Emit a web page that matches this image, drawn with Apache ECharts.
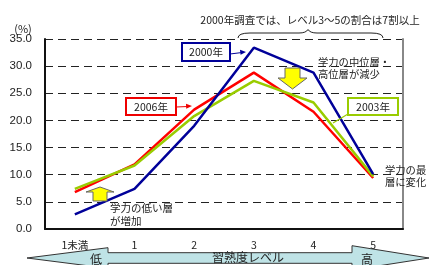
<!DOCTYPE html>
<html>
<head>
<meta charset="utf-8">
<script src="https://cdn.jsdelivr.net/npm/echarts@6/dist/echarts.min.js"></script>
<style>
  html, body { margin: 0; padding: 0; background: #fff; }
  #chart { width: 429px; height: 265px; }
</style>
</head>
<body>
<div id="chart"></div>
<script>
const levels = ["1未満", "1", "2", "3", "4", "5"];
const y2006 = [6.8, 11.9, 22.0, 28.8, 21.6, 9.4];
const y2003 = [7.4, 11.7, 20.8, 27.3, 23.3, 9.7];
const y2000 = [2.7, 7.4, 19.0, 33.4, 28.8, 10.1];

const FONT = "'Liberation Sans', 'Noto Sans CJK JP', sans-serif";
const JP = "'Noto Sans CJK JP', 'Liberation Sans', sans-serif";

const chart = echarts.init(document.getElementById("chart"), null, { renderer: "canvas" });

function label(text, x, y, size, align) {
  return {
    type: "text", z: 20, x: x, y: y,
    style: { text: text, fill: "#222", font: size + "px " + JP, align: align || "left", verticalAlign: "middle", lineHeight: 12 }
  };
}

function box(text, x, y, w, h, color) {
  return {
    type: "group", z: 20, children: [
      { type: "rect", shape: { x: x, y: y, width: w, height: h }, style: { fill: "#fff", stroke: color, lineWidth: 2 } },
      { type: "text", x: x + w / 2, y: y + h / 2 + 0.5, style: { text: text, fill: "#222", font: "10.5px " + JP, align: "center", verticalAlign: "middle" } }
    ]
  };
}

function curve(x1, y1, cx, cy, x2, y2) {
  return { type: "bezierCurve", z: 20, shape: { x1: x1, y1: y1, cpx1: cx, cpy1: cy, x2: x2, y2: y2 }, style: { fill: null, stroke: "#222", lineWidth: 1 } };
}

const option = {
  animation: false,
  backgroundColor: "#fff",
  textStyle: { fontFamily: FONT },
  grid: { left: 45, right: 26, top: 39, bottom: 36 },
  xAxis: {
    type: "category",
    data: levels,
    boundaryGap: true,
    axisLine: { lineStyle: { color: "#111", width: 2 } },
    axisTick: { inside: true, length: 4, lineStyle: { color: "#111" } },
    axisLabel: { color: "#222", fontSize: 10.5, margin: 11, fontFamily: JP }
  },
  yAxis: [
    {
      type: "value",
      min: 0, max: 35, interval: 5,
      axisLine: { show: true, lineStyle: { color: "#111", width: 2 } },
      axisTick: { show: false },
      axisLabel: { color: "#222", fontSize: 11.5, margin: 13, formatter: v => v.toFixed(1) },
      splitLine: { lineStyle: { color: "#222", width: 1, type: [8, 5] } }
    },
    {
      type: "value", position: "right",
      min: 0, max: 35, interval: 5,
      axisLine: { show: true, lineStyle: { color: "#888", width: 2 } },
      axisTick: { show: false }, axisLabel: { show: false }, splitLine: { show: false }
    }
  ],
  series: [
    { name: "2006年", type: "line", data: y2006, symbol: "none", lineStyle: { color: "#ff0000", width: 2.5 } },
    { name: "2003年", type: "line", data: y2003, symbol: "none", lineStyle: { color: "#99cc00", width: 2.5 } },
    { name: "2000年", type: "line", data: y2000, symbol: "none", lineStyle: { color: "#000099", width: 2.5 } }
  ],
  graphic: [
    label("(%)", 23, 29, 11, "center"),
    label("2000年調査では、レベル3～5の割合は7割以上", 310, 20, 10.5, "center"),
    curve(238, 38, 238, 33, 250, 33),
    { type: "line", z: 20, shape: { x1: 250, y1: 33, x2: 299, y2: 33 }, style: { stroke: "#222", lineWidth: 1 } },
    curve(299, 33, 306, 33, 308, 29.5),
    curve(308, 29.5, 310, 33, 317, 33),
    { type: "line", z: 20, shape: { x1: 317, y1: 33, x2: 371, y2: 33 }, style: { stroke: "#222", lineWidth: 1 } },
    curve(371, 33, 383, 33, 383, 38),
    box("2000年", 182, 43, 48, 18, "#000099"),
    { type: "line", z: 20, shape: { x1: 230, y1: 54, x2: 242, y2: 52.5 }, style: { stroke: "#000099", lineWidth: 1 } },
    { type: "polygon", z: 20, shape: { points: [[246, 52], [240, 49.8], [240.6, 54.8]] }, style: { fill: "#000099" } },
    box("2006年", 126, 98, 50, 17, "#ee0000"),
    { type: "line", z: 20, shape: { x1: 176, y1: 107, x2: 188, y2: 106.5 }, style: { stroke: "#ee0000", lineWidth: 1 } },
    { type: "polygon", z: 20, shape: { points: [[192, 106], [186, 103.8], [186.2, 108.8]] }, style: { fill: "#ee0000" } },
    box("2003年", 348, 98, 50, 17, "#99cc00"),
    { type: "line", z: 20, shape: { x1: 348, y1: 114, x2: 333, y2: 123 }, style: { stroke: "#99cc00", lineWidth: 1.2 } },
    { type: "polygon", z: 20, shape: { points: [[285, 68], [300, 68], [300, 78], [307, 78], [292.5, 89], [278, 78], [285, 78]] },
      style: { fill: "#ffff00", stroke: "#666", lineWidth: 1 } },
    label("学力の中位層・\n高位層が減少", 318, 68.5, 10.3),
    { type: "polygon", z: 20, shape: { points: [[100, 187], [114, 192], [107, 192], [107, 201], [93, 201], [93, 192], [86, 192]] },
      style: { fill: "#ffff00", stroke: "#666", lineWidth: 1 } },
    {
      type: "text", z: 20, x: 110, y: 214.5,
      style: { text: "学力の低い層\nが増加", fill: "#222", font: "10.5px " + JP, verticalAlign: "middle", lineHeight: 13 }
    },
    label("学力の最\n層に変化", 385, 176, 10.3),
    { type: "polygon", z: 5, shape: { points: [[27, 258], [108, 247.7], [108, 252.7], [352, 252.7], [352, 245.7], [429, 258], [352, 270], [352, 263.3], [108, 263.3], [108, 268.3]] },
      style: { fill: "#bfe3e6", stroke: "#333", lineWidth: 1 } },
    label("低", 96, 259, 12, "center"),
    label("習熟度レベル", 248, 257, 12, "center"),
    label("高", 367, 259, 12, "center")
  ]
};

chart.setOption(option);
</script>
</body>
</html>
